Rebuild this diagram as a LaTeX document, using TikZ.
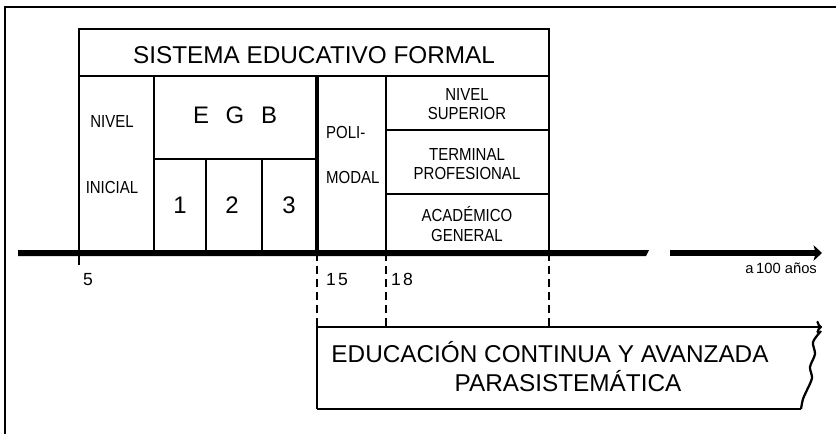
\documentclass[tikz,border=0pt]{standalone}
\usepackage{fontspec}
\setmainfont{Liberation Sans}
\newfontfamily\narrowfont[FakeStretch=0.86]{Liberation Sans}
\newfontfamily\agefont[LetterSpace=12]{Liberation Sans}
\usetikzlibrary{arrows.meta}

\begin{document}
\begin{tikzpicture}[x=0.025cm, y=-0.025cm, line width=1.6pt, every node/.style={inner sep=0pt},
	lbl/.style={font=\narrowfont\fontsize{12.4}{13.9}\selectfont, align=center},
	big/.style={font=\fontsize{17.3}{20}\selectfont, anchor=base},
	num/.style={font=\fontsize{17}{20}\selectfont, anchor=base},
	age/.style={font=\agefont\fontsize{12.5}{14}\selectfont, anchor=base west},
	guide/.style={dash pattern=on 5.7pt off 3.6pt}]
	\useasboundingbox (0,0) rectangle (836,434);
	\draw (836,7) -- (5,7) -- (5,434);
	% sistema formal
	\draw (79,29) rectangle (549,76);
	\node[big] (sef) at (314,63) {SISTEMA EDUCATIVO FORMAL};
	\foreach \x in {79,154,386,549} {\draw (\x,76) -- (\x,253);}
	\draw[line width=2.9pt] (317,76) -- (317,253);
	\foreach \x in {206,262} {\draw (\x,159) -- (\x,253);}
	\draw (154,159) -- (317,159);
	\foreach \y in {130,194} {\draw (386,\y) -- (549,\y);}
	\node[lbl] (niv) at (112,122) {NIVEL};
	\node[lbl] (ini) at (112,187) {INICIAL};
	\node[num] (egb) at (235,123) {E\hspace{0.7em}G\hspace{0.7em}B};
	\foreach \n/\x in {1/180,2/232,3/289} {\node[num] (c\n) at (\x,213) {\n};}
	\node[lbl, anchor=west] (poli) at (325,132) {POLI-};
	\node[lbl, anchor=west] (mod) at (325,177) {MODAL};
	\node[lbl] (sup) at (467,104) {NIVEL\\SUPERIOR};
	\node[lbl] (ter) at (467,164) {TERMINAL\\PROFESIONAL};
	\node[lbl] (aca) at (467,224) {ACADÉMICO\\GENERAL};
	% eje de edades
	\fill (18,250) -- (649,250) -- (646,256) -- (18,256) -- cycle;
	\draw[line width=4.3pt, -{Stealth[length=6pt, width=11pt, inset=1.5pt]}] (670,253) -- (822,253);
	\draw (79,253) -- (79,265);
	\foreach \x in {317,386,549} {\draw[guide] (\x,253) -- (\x,327);}
	\node[age] (a5) at (82,285) {5};
	\node[age] (a15) at (325,285) {15};
	\node[age] (a18) at (390,285) {18};
	\node[anchor=base east, font=\fontsize{10.5}{12}\selectfont] (a100) at (818,273) {a\,100 años};
	% educacion continua
	\draw[-{To[length=4pt, width=9pt]}] (317,409) -- (317,327) -- (822,327);
	\draw (317,409) -- (801,409);
	\draw plot[smooth] coordinates {(801,409) (803,399) (807,390) (812,378) (810,367) (815,354) (813,342) (821,331)};
	\node[big] (eca) at (550,362) {EDUCACIÓN CONTINUA Y AVANZADA};
	\node[big] (par) at (568,391) {PARASISTEMÁTICA};
\end{tikzpicture}
\end{document}
